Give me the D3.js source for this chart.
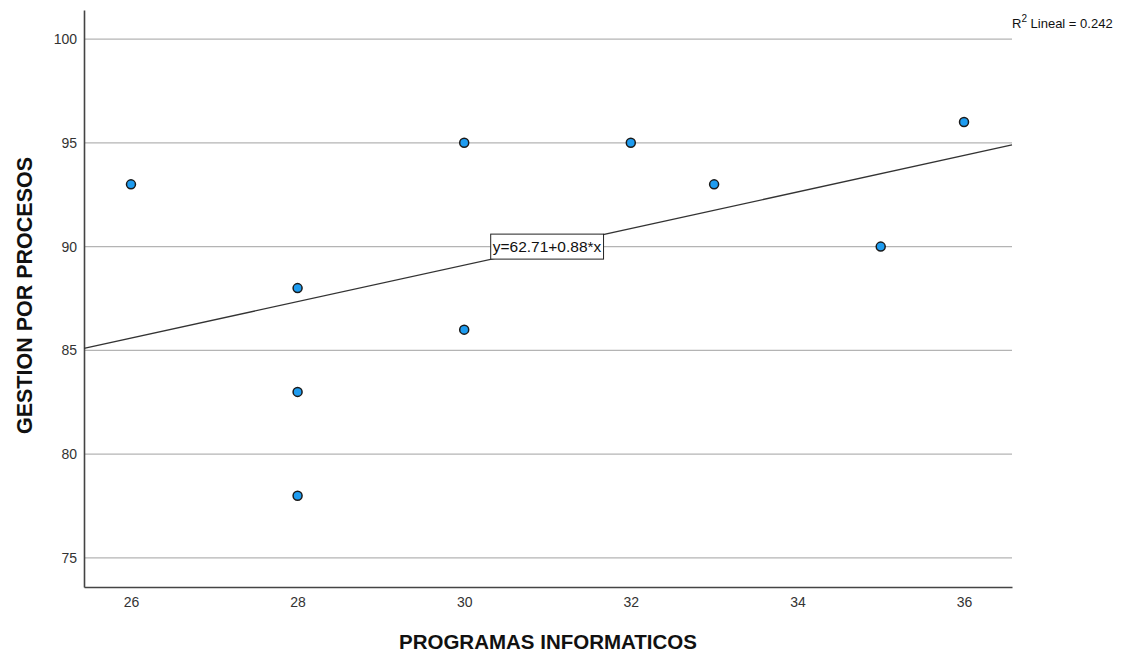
<!doctype html>
<html lang="es">
  <head>
    <meta charset="UTF-8" />
    <title>Gestion por procesos vs programas informaticos</title>
    <script src="https://d3js.org/d3.v7.min.js"></script>
    <style>
      body { margin: 0; background: #fff; font-family: Arial, "Liberation Sans", sans-serif; }
      svg { display: block; }
    </style>
  </head>
  <body>
    <script>
      // data
      const programas = [26, 28, 28, 28, 30, 30, 32, 33, 35, 36];
      const gestion = [93, 88, 83, 78, 95, 86, 95, 93, 90, 96];
      const xTicks = [26, 28, 30, 32, 34, 36];
      const yTicks = [75, 80, 85, 90, 95, 100];
      const intercept = 62.71;
      const slope = 0.88;
      const r2Text = "0.242";

      const width = 1133, height = 652;
      const margin = { top: 10, right: 121, bottom: 65, left: 84 };

      const svg = d3.select("body").append("svg")
        .attr("width", width)
        .attr("height", height);

      const x = d3.scaleLinear()
        .domain([25.436, 36.576])
        .range([margin.left, width - margin.right]);
      const y = d3.scaleLinear()
        .domain([73.6, 101.4])
        .range([height - margin.bottom, margin.top]);

      // horizontal grid lines
      svg.append("g")
        .selectAll("line")
        .data(yTicks)
        .join("line")
        .attr("x1", x.range()[0])
        .attr("x2", x.range()[1])
        .attr("y1", d => y(d))
        .attr("y2", d => y(d))
        .attr("stroke", "#b4b4b4")
        .attr("stroke-width", 1.2);

      // axes
      const xAxis = svg.append("g")
        .attr("transform", `translate(0,${y.range()[0]})`)
        .call(d3.axisBottom(x).tickValues(xTicks).tickSize(0).tickPadding(10));
      const yAxis = svg.append("g")
        .attr("transform", `translate(${x.range()[0]},0)`)
        .call(d3.axisLeft(y).tickValues(yTicks).tickSize(0).tickPadding(7));
      [xAxis, yAxis].forEach(a => {
        a.select(".domain").attr("stroke", "#444").attr("stroke-width", 1.6);
        a.selectAll("text")
          .attr("font-family", "Arial, 'Liberation Sans', sans-serif")
          .attr("font-size", 14)
          .attr("fill", "#333");
      });

      // regression line across the plot
      const xd = x.domain();
      svg.append("line")
        .attr("x1", x(xd[0]))
        .attr("x2", x(xd[1]))
        .attr("y1", y(intercept + slope * xd[0]))
        .attr("y2", y(intercept + slope * xd[1]))
        .attr("stroke", "#333")
        .attr("stroke-width", 1.3);

      // equation label
      const lx = 547, ly = y(90);
      const lbl = svg.append("g").attr("transform", `translate(${lx},${ly})`);
      const eq = lbl.append("text")
        .attr("text-anchor", "middle")
        .attr("dy", "0.36em")
        .attr("font-size", 15.5)
        .attr("fill", "#111")
        .text(`y=${intercept}+${slope}*x`);
      const bb = eq.node().getBBox();
      lbl.insert("rect", "text")
        .attr("x", bb.x - 2)
        .attr("y", -12.5)
        .attr("width", bb.width + 4)
        .attr("height", 25)
        .attr("fill", "#fff")
        .attr("stroke", "#222")
        .attr("stroke-width", 1);

      // points
      svg.append("g")
        .selectAll("circle")
        .data(programas.map((d, i) => [d, gestion[i]]))
        .join("circle")
        .attr("cx", d => x(d[0]))
        .attr("cy", d => y(d[1]))
        .attr("r", 4.5)
        .attr("fill", "#1e9cf0")
        .attr("stroke", "#1a1a1a")
        .attr("stroke-width", 1.5);

      // R² annotation
      const r2 = svg.append("text")
        .attr("x", 1012)
        .attr("y", 28)
        .attr("font-size", 13)
        .attr("fill", "#111");
      r2.append("tspan").text("R");
      r2.append("tspan").attr("dy", -6).attr("font-size", 10).text("2");
      r2.append("tspan").attr("dy", 6).text(` Lineal = ${r2Text}`);

      // axis titles
      svg.append("text")
        .attr("x", (x.range()[0] + x.range()[1]) / 2)
        .attr("y", 649)
        .attr("text-anchor", "middle")
        .attr("font-size", 20.5)
        .attr("font-weight", "bold")
        .attr("fill", "#111")
        .text("PROGRAMAS INFORMATICOS");
      svg.append("text")
        .attr("transform", `translate(32,${(y.range()[0] + y.range()[1]) / 2 - 3}) rotate(-90)`)
        .attr("text-anchor", "middle")
        .attr("font-size", 21.5)
        .attr("font-weight", "bold")
        .attr("fill", "#111")
        .text("GESTION POR PROCESOS");
    </script>
  </body>
</html>
